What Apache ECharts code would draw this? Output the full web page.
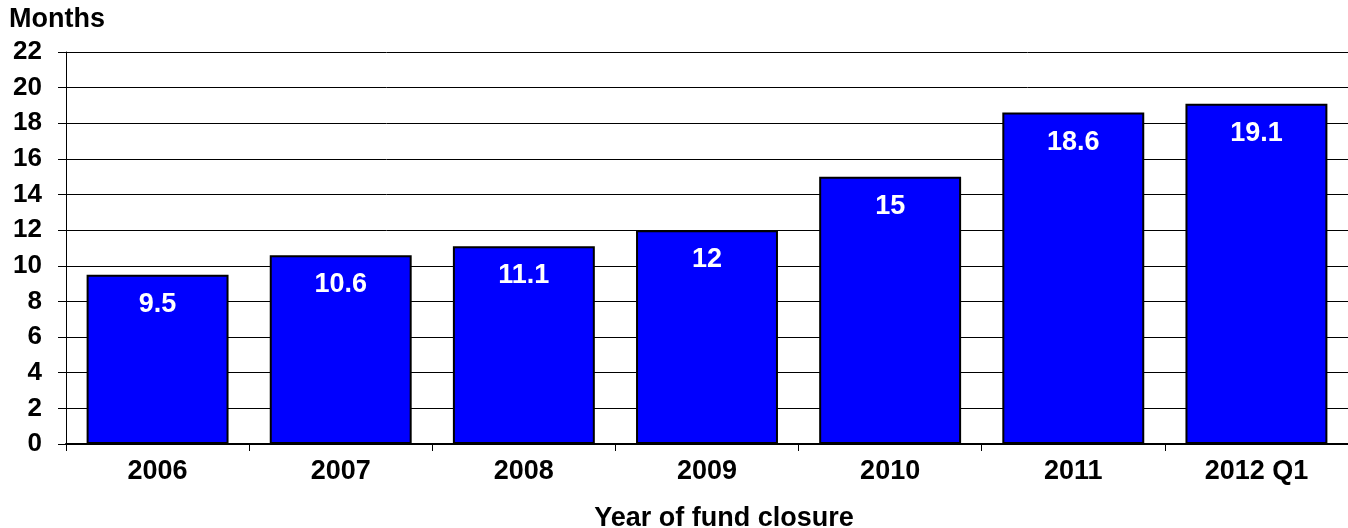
<!DOCTYPE html>
<html>
<head>
<meta charset="utf-8">
<script src="https://cdn.jsdelivr.net/npm/echarts@6/dist/echarts.min.js"></script>
<style>
  html, body { margin: 0; padding: 0; background: #fff; overflow: hidden; }
  #chart { width: 1348px; height: 528px; }
</style>
</head>
<body>
<div id="chart"></div>
<script>
// Average months to fund closure, by year of closure
const categories = ['2006', '2007', '2008', '2009', '2010', '2011', '2012 Q1'];
const months = [9.5, 10.6, 11.1, 12, 15, 18.6, 19.1];
const yTicks = { min: 0, max: 22, interval: 2 };

const FONT = '"Liberation Sans", Arial, sans-serif';

const chart = echarts.init(document.getElementById('chart'), null, { renderer: 'canvas' });
chart.setOption({
  animation: false,
  backgroundColor: '#ffffff',
  grid: {
    left: 66, right: 0, top: 52, bottom: 84,
    containLabel: false,
    outerBoundsMode: 'none'
  },
  graphic: [
    {
      type: 'text', left: 9, top: 6,
      style: { text: 'Months', font: 'bold 27px ' + FONT, fill: '#000' }
    }
  ],
  xAxis: {
    type: 'category',
    data: categories,
    name: 'Year of fund closure',
    nameLocation: 'middle',
    nameGap: 61,
    nameTextStyle: {
      fontFamily: FONT, fontWeight: 'bold', fontSize: 27, color: '#000',
      verticalAlign: 'top', padding: [0, 0, 0, 34]
    },
    axisLine: { lineStyle: { color: '#000', width: 2 } },
    axisTick: { show: true, length: 7, lineStyle: { color: '#000', width: 1 } },
    axisLabel: { fontFamily: FONT, fontWeight: 'bold', fontSize: 27, color: '#000', margin: 14 },
    splitLine: { show: false }
  },
  yAxis: {
    type: 'value',
    min: yTicks.min,
    max: yTicks.max,
    interval: yTicks.interval,
    axisLine: { show: true, lineStyle: { color: '#000', width: 1 } },
    axisTick: { show: true, length: 8, lineStyle: { color: '#000' } },
    axisLabel: { fontFamily: FONT, fontWeight: 'bold', fontSize: 26, color: '#000', margin: 24 },
    splitLine: { show: true, lineStyle: { color: '#000', width: 1 } }
  },
  series: [
    {
      type: 'bar',
      data: months,
      barCategoryGap: '22.5%',
      itemStyle: { color: '#0000ff', borderColor: '#000', borderWidth: 2 },
      label: {
        show: true,
        position: 'insideTop',
        distance: 16,
        fontFamily: FONT,
        fontWeight: 'bold',
        fontSize: 27,
        color: '#ffffff'
      }
    }
  ]
});
</script>
</body>
</html>
